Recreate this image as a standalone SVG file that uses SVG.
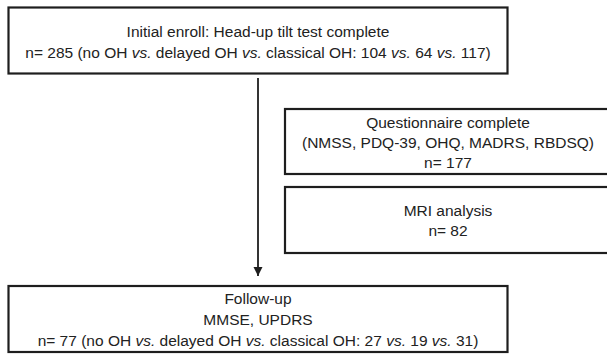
<svg xmlns="http://www.w3.org/2000/svg" width="607" height="354" viewBox="0 0 607 354">
<defs>
<style>
.box{fill:#fff;stroke:#1e1e1e;stroke-width:2.2}
.t{font-family:"Liberation Sans",Arial,sans-serif;font-size:15.5px;fill:#222;text-anchor:middle}
.i{font-style:italic}
.conn{stroke:#1e1e1e;stroke-width:1.8;fill:none}
</style>
<marker id="arr" viewBox="0 0 10 10" refX="10" refY="5" markerWidth="5" markerHeight="5.5" markerUnits="strokeWidth" orient="auto">
<path d="M0,0 L10,5 L0,10 z" fill="#1e1e1e"/>
</marker>
</defs>
<rect width="607" height="354" fill="#fff"/>
<g id="connectors">
<line class="conn" x1="258" y1="78" x2="258" y2="276" marker-end="url(#arr)"/>
</g>
<g id="initial">
<rect class="box" x="8.5" y="7.5" width="499" height="66"/>
<text class="t" x="258" y="37">Initial enroll: Head-up tilt test complete</text>
<text class="t" x="258" y="58">n= 285 (no OH <tspan class="i">vs.</tspan> delayed OH <tspan class="i">vs.</tspan> classical OH: 104 <tspan class="i">vs.</tspan> 64 <tspan class="i">vs.</tspan> 117)</text>
</g>
<g id="questionnaire">
<rect class="box" x="285" y="109" width="330" height="65"/>
<text class="t" x="448" y="128">Questionnaire complete</text>
<text class="t" x="448" y="148">(NMSS, PDQ-39, OHQ, MADRS, RBDSQ)</text>
<text class="t" x="448" y="168">n= 177</text>
</g>
<g id="mri">
<rect class="box" x="285" y="187" width="330" height="66"/>
<text class="t" x="448" y="216">MRI analysis</text>
<text class="t" x="448" y="236">n= 82</text>
</g>
<g id="followup">
<rect class="box" x="8.5" y="286" width="499" height="66"/>
<text class="t" x="258" y="304">Follow-up</text>
<text class="t" x="258" y="325">MMSE, UPDRS</text>
<text class="t" x="258" y="345.5">n= 77 (no OH <tspan class="i">vs.</tspan> delayed OH <tspan class="i">vs.</tspan> classical OH: 27 <tspan class="i">vs.</tspan> 19 <tspan class="i">vs.</tspan> 31)</text>
</g>
</svg>
